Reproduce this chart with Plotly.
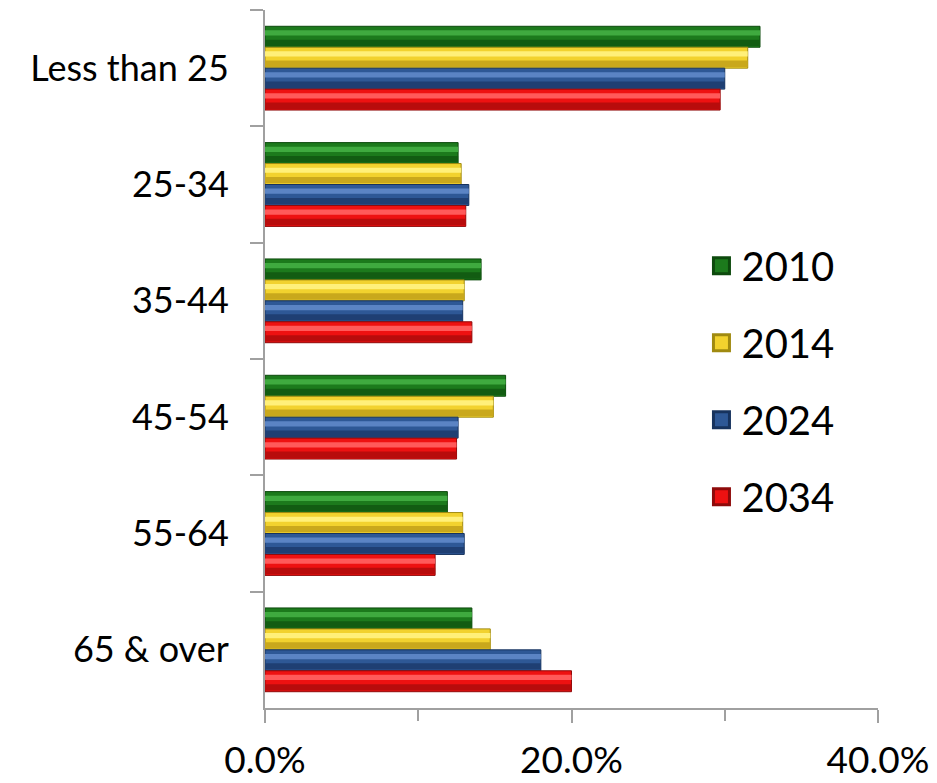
import plotly.graph_objects as go

categories = ["Less than 25", "25-34", "35-44", "45-54", "55-64", "65 & over"]
years = ["2010", "2014", "2024", "2034"]
v2010 = [32.3, 12.6, 14.1, 15.7, 11.9, 13.5]
v2014 = [31.5, 12.8, 13.0, 14.9, 12.9, 14.7]
v2024 = [30.0, 13.3, 12.9, 12.6, 13.0, 18.0]
v2034 = [29.7, 13.1, 13.5, 12.5, 11.1, 20.0]
series = [v2010, v2014, v2024, v2034]

base_colors = ["#1c7a1c", "#f2d22e", "#2e5896", "#ee1111"]
edge_colors = ["#0d4a0d", "#a08a10", "#17335e", "#8e0a0a"]
light_colors = ["#3faa3f", "#fff07a", "#5b84c4", "#ff5a5a"]
dark_colors = ["#125c12", "#c9a81c", "#1f3f73", "#b80c0c"]

slot = 0.18
start = -0.36

fig = go.Figure()
for i, (yr, vals) in enumerate(zip(years, series)):
    off = start + slot * i
    fig.add_trace(go.Bar(
        y=categories, x=vals, orientation="h", name=yr,
        offset=off, width=slot,
        marker=dict(color=base_colors[i], line=dict(color=edge_colors[i], width=1)),
        legendgroup=yr, showlegend=False,
    ))
    fig.add_trace(go.Bar(
        y=categories, x=vals, orientation="h", name=yr + " hl",
        offset=off + 0.035, width=0.045,
        marker=dict(color=light_colors[i], line=dict(width=0)),
        legendgroup=yr, showlegend=False, hoverinfo="skip",
    ))
    fig.add_trace(go.Bar(
        y=categories, x=vals, orientation="h", name=yr + " sh",
        offset=off + 0.115, width=0.055,
        marker=dict(color=dark_colors[i], line=dict(width=0)),
        legendgroup=yr, showlegend=False, hoverinfo="skip",
    ))
    fig.add_trace(go.Scatter(
        x=[None], y=[None], mode="markers", name=yr,
        marker=dict(symbol="square", size=30, color=base_colors[i],
                    line=dict(color=edge_colors[i], width=3)),
        legendgroup=yr, showlegend=True,
    ))

fig.update_layout(
    width=929, height=775,
    barmode="overlay",
    plot_bgcolor="white", paper_bgcolor="white",
    margin=dict(l=257, r=59, t=2, b=71),
    font=dict(family="Lato, Calibri, sans-serif", color="black"),
    legend=dict(
        x=0.712, y=0.68, xanchor="left", yanchor="top",
        font=dict(size=40), traceorder="grouped", tracegroupgap=22,
        bgcolor="rgba(0,0,0,0)", itemsizing="trace",
    ),
    showlegend=True,
)
fig.update_xaxes(
    range=[0, 40], tickvals=[0, 20, 40], ticktext=["0.0%", "20.0%", "40.0%"],
    ticks="outside", ticklen=13, tickcolor="#a0a0a0", tickwidth=2,
    minor=dict(ticks="outside", ticklen=11, dtick=10, tickcolor="#a0a0a0", tickwidth=2),
    showline=True, linecolor="#a0a0a0", linewidth=2, showgrid=False, zeroline=False,
    tickfont=dict(size=37), ticklabelstandoff=6,
)
fig.update_yaxes(
    categoryorder="array", categoryarray=categories, autorange="reversed",
    ticks="outside", tickson="boundaries", ticklen=13, tickcolor="#a0a0a0", tickwidth=2,
    showline=True, linecolor="#a0a0a0", linewidth=2, showgrid=False, zeroline=False,
    tickfont=dict(size=36), ticklabelstandoff=27,
)

fig.write_html("out.html")
